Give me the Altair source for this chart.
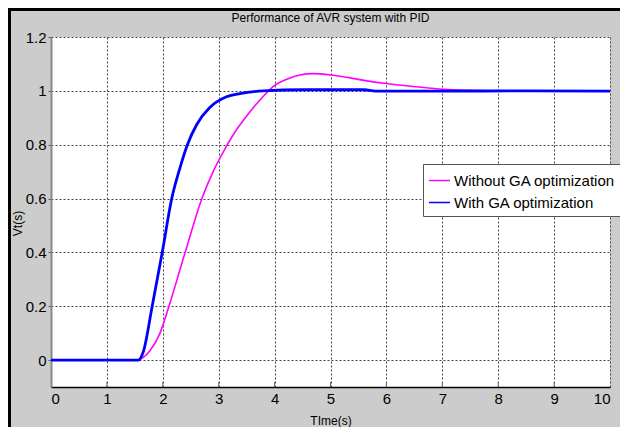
import altair as alt
import pandas as pd

# ---- data ----
t_ga = [0, 1.5, 1.56, 1.65, 1.81, 1.99, 2.16, 2.31, 2.44, 2.61, 2.84,
        3.14, 3.38, 3.8, 4.5, 5.6, 5.8, 7.0, 8.5, 10]
v_ga = [0, 0, 0.0, 0.03, 0.2, 0.4, 0.6, 0.716, 0.80, 0.876, 0.938,
        0.978, 0.99, 1.0, 1.004, 1.004, 0.999, 0.999, 1.0, 0.999]

t_nog = [0, 1.55, 1.62, 1.77, 1.95, 2.11, 2.40, 2.70, 2.9, 3.1, 3.3, 3.55,
         3.8, 4.0, 4.22, 4.45, 4.69, 5.05, 5.65, 6.0, 6.54, 7.02, 7.5, 8, 9, 10]
v_nog = [0, 0, 0.006, 0.035, 0.10, 0.2, 0.4, 0.6, 0.7, 0.78, 0.85, 0.92,
         0.98, 1.02, 1.043, 1.059, 1.064, 1.058, 1.037, 1.027, 1.015, 1.006, 1.002, 1.0, 1.0, 1.0]

series_names = ["Without GA optimization", "With GA optimization"]
series_colors = ["#ff00ff", "#0000ff"]
title_text = "Performance of AVR system with PID"

x_ticks = list(range(0, 11))
y_ticks = [0, 0.2, 0.4, 0.6, 0.8, 1.0, 1.2]

df_nog = pd.DataFrame({"t": t_nog, "v": v_nog, "s": series_names[0]})
df_ga = pd.DataFrame({"t": t_ga, "v": v_ga, "s": series_names[1]})
df_ticks = pd.DataFrame({"t": x_ticks[1:-1]})
df_title = pd.DataFrame({"label": [title_text]})

W, H = 559, 350
PAD = {"left": 43, "top": 29, "right": 10, "bottom": 40}

color = alt.Color("s:N", scale=alt.Scale(domain=series_names, range=series_colors),
                  legend=alt.Legend(title=None, orient="none", legendX=372, legendY=127,
                                    symbolType="stroke", symbolSize=441, symbolStrokeWidth=1.5,
                                    labelFontSize=15, labelOffset=3, rowPadding=2, labelLimit=400,
                                    padding=5, fillColor="white", strokeColor="#555555",
                                    labelColor="black", labelFont="Liberation Sans"))

xenc = alt.X("t:Q", scale=alt.Scale(domain=[0, 10], nice=False),
             axis=alt.Axis(values=x_ticks, title="TIme(s)", grid=True, ticks=False,
                           labelFontSize=15, labelPadding=4, titleFontSize=12,
                           titleFontWeight="normal", titlePadding=9,
                           domainColor="black", domainWidth=1.5))
yenc = alt.Y("v:Q", scale=alt.Scale(domain=[-0.1, 1.2], nice=False, zero=False),
             axis=alt.Axis(values=y_ticks, format="~g", title="Vt(s)", grid=True,
                           tickSize=3, tickColor="#555555", labelFontSize=15, labelPadding=2,
                           titleFontSize=12, titleFontWeight="normal",
                           titleX=-34, titleY=186, titleBaseline="middle", titleAlign="center",
                           titleAngle=270,
                           domainColor="#888888", domainWidth=2))

line_nog = alt.Chart(df_nog).mark_line(strokeWidth=1.6, interpolate="monotone").encode(
    x=xenc, y=yenc, color=color)
line_ga = alt.Chart(df_ga).mark_line(strokeWidth=2.8, interpolate="monotone").encode(
    x="t:Q", y="v:Q", color="s:N")

ticks = alt.Chart(df_ticks).mark_rule(color="#666666", strokeWidth=1).encode(
    x="t:Q", y=alt.value(H), y2=alt.value(H - 5))

title_mark = alt.Chart(df_title).mark_text(fontSize=12, baseline="middle", align="center",
                                           color="black", font="Liberation Sans").encode(
    x=alt.value(W / 2), y=alt.value(-19), text="label:N")

frame_left = alt.Chart(df_ticks).mark_rule(color="black", strokeWidth=3).encode(
    x=alt.value(-PAD["left"] + 1), y=alt.value(-PAD["top"]), y2=alt.value(H + PAD["bottom"]))
frame_top = alt.Chart(df_ticks).mark_rule(color="black", strokeWidth=3).encode(
    y=alt.value(-PAD["top"] + 1), x=alt.value(-PAD["left"]), x2=alt.value(W + PAD["right"]))

chart = alt.layer(line_nog, line_ga, ticks, title_mark, frame_left, frame_top).properties(
    width=W, height=H,
    padding=PAD,
    autosize=alt.AutoSizeParams(type="none"),
    background="#cccccc",
).configure(font="Liberation Sans").configure_view(
    fill="white", stroke=None
).configure_axis(
    gridColor="#444444", gridDash=[2, 2], gridWidth=1, gridOpacity=1,
    labelColor="black", titleColor="black", labelFont="Liberation Sans"
)

chart.save("out.html", embed_options={"renderer": "svg", "actions": False})
